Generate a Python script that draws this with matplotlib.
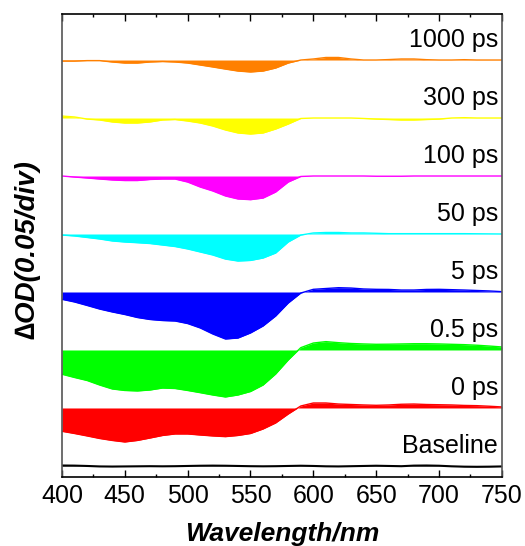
import numpy as np
import matplotlib
matplotlib.use('Agg')
import matplotlib.pyplot as plt

plt.rcParams['font.family'] = ['Liberation Sans', 'DejaVu Sans']

# wavelength grid (nm), values are dOD in mOD
wavelength = np.arange(400, 751, 10)
labels = ['Baseline', '0 ps', '0.5 ps', '5 ps', '50 ps', '100 ps', '300 ps', '1000 ps']
colors = ['#000000', '#FF0000', '#00FF00', '#0000FF', '#00FFFF', '#FF00FF', '#FFFF00', '#FF8000']

baseline = [0.4, 0.3, 0.0, -0.4, -0.5, -0.4, -0.3, -0.2, -0.3, -0.2, 0.0, 0.2, 0.3, 0.2, 0.0, -0.2,
            -0.3, -0.2, 0.0, 0.2, 0.0, -0.3, -0.4, -0.2, 0.0, 0.2, 0.0, -0.2, 0.3, 0.4, 0.2, -0.3,
            -0.6, -0.7, -0.6, -0.4]
ps_0 = [-20.1, -22.0, -24.1, -26.3, -28.0, -29.3, -28.0, -25.9, -23.7, -22.4, -22.4, -23.3, -24.1,
        -24.7, -23.7, -22.0, -18.1, -12.9, -5.2, 1.7, 4.3, 4.3, 3.4, 3.0, 2.6, 2.3, 2.6, 3.2, 3.4,
        3.0, 2.8, 2.6, 2.2, 2.0, 1.5, 0.9]
ps_05 = [-20.9, -23.7, -26.3, -30.2, -33.6, -34.9, -35.3, -34.5, -32.8, -33.2, -34.9, -36.8, -38.8,
         -40.5, -38.8, -35.8, -30.2, -20.7, -8.6, 2.0, 6.0, 7.2, 6.3, 5.6, 5.2, 4.9, 5.0, 5.2, 5.4,
         5.4, 5.2, 4.9, 4.6, 4.1, 3.4, 2.6]
ps_5 = [-6.3, -8.6, -11.6, -14.7, -17.2, -19.4, -22.0, -23.7, -24.6, -25.0, -27.2, -31.0, -36.2,
        -40.5, -39.7, -35.3, -29.3, -20.7, -9.5, -0.9, 2.3, 3.0, 3.7, 3.4, 2.6, 2.3, 2.2, 1.7, 1.7,
        2.2, 2.3, 2.0, 1.7, 1.3, 0.9, 0.3]
ps_50 = [-0.9, -1.7, -3.0, -4.3, -6.0, -6.9, -7.5, -8.2, -9.5, -10.8, -12.9, -15.5, -18.1, -21.6,
         -23.3, -22.8, -20.7, -16.4, -6.9, -0.9, 0.9, 1.3, 1.3, 0.9, 0.9, 0.6, 0.3, 0.3, 0.3, 0.3,
         0.3, 0.3, 0.3, 0.2, 0.1, 0.0]
ps_100 = [0.0, -0.9, -1.7, -2.6, -3.4, -3.9, -3.9, -3.0, -2.6, -2.6, -5.2, -9.5, -12.9, -17.2,
          -19.8, -20.4, -19.0, -13.8, -5.2, -0.4, 0.0, 0.0, 0.0, 0.0, 0.0, -0.2, -0.2, -0.2, 0.0,
          0.0, 0.0, 0.0, 0.0, 0.0, 0.0, 0.0]
ps_300 = [1.7, 0.9, -0.9, -1.7, -3.4, -4.3, -4.3, -3.4, -1.7, -1.3, -2.6, -4.3, -6.9, -10.3, -12.9,
          -13.8, -12.9, -9.5, -5.2, -0.4, 0.0, 0.0, 0.0, 0.0, -0.4, -0.9, -1.3, -1.7, -1.7, -1.3,
          -0.9, 0.0, 0.3, 0.0, 0.0, 0.0]
ps_1000 = [-0.9, -0.9, -0.5, -0.5, -1.7, -2.6, -2.6, -1.7, -1.3, -1.7, -2.6, -4.3, -6.0, -7.8, -9.5,
           -10.3, -9.5, -6.9, -2.6, 0.0, 0.9, 2.2, 2.2, 0.9, 0.0, 0.0, 0.4, 0.9, 0.9, 0.3, 0.0, 0.0,
           0.3, 0.0, 0.0, 0.0]
spectra = [baseline, ps_0, ps_05, ps_5, ps_50, ps_100, ps_300, ps_1000]

step = 50  # 0.05 OD per division

fig = plt.figure(figsize=(5.25, 5.46), dpi=100)
ax = fig.add_axes([0.118, 0.1264, 0.838, 0.848])

for i, (lab, col, val) in enumerate(zip(labels, colors, spectra)):
    off = i * step
    y = np.asarray(val) + off
    ax.fill_between(wavelength, off, y, color=col, lw=0)
    ax.plot(wavelength, y, color=col, lw=1.5 if i == 0 else 1.0)
    ax.text(747, off + 17, lab, ha='right', va='center', fontsize=18)

ax.set_xlim(400, 750)
ax.set_ylim(-9.5, 389.7)
ax.set_xticks(np.arange(400, 751, 50))
ax.set_xticks(np.arange(400, 751, 25), minor=True)
ax.set_yticks([])
ax.tick_params(axis='x', which='both', direction='in', top=True, labelsize=18, pad=5)
ax.tick_params(axis='x', which='major', length=5, width=1)
ax.tick_params(axis='x', which='minor', length=2.5, width=1)
for s in ax.spines.values():
    s.set_linewidth(1.2)
ax.spines['left'].set_color('#555555')
ax.spines['right'].set_color('#555555')

ax.set_xlabel('Wavelength/nm', fontsize=19, fontweight='bold', fontstyle='italic', labelpad=10)
fig.text(27 / 525, 1 - 250 / 546, '∆OD(0.05/div)', rotation=90, ha='center', va='center',
         fontsize=20, fontweight='bold', fontstyle='italic')

fig.savefig('out.png', dpi=100)
